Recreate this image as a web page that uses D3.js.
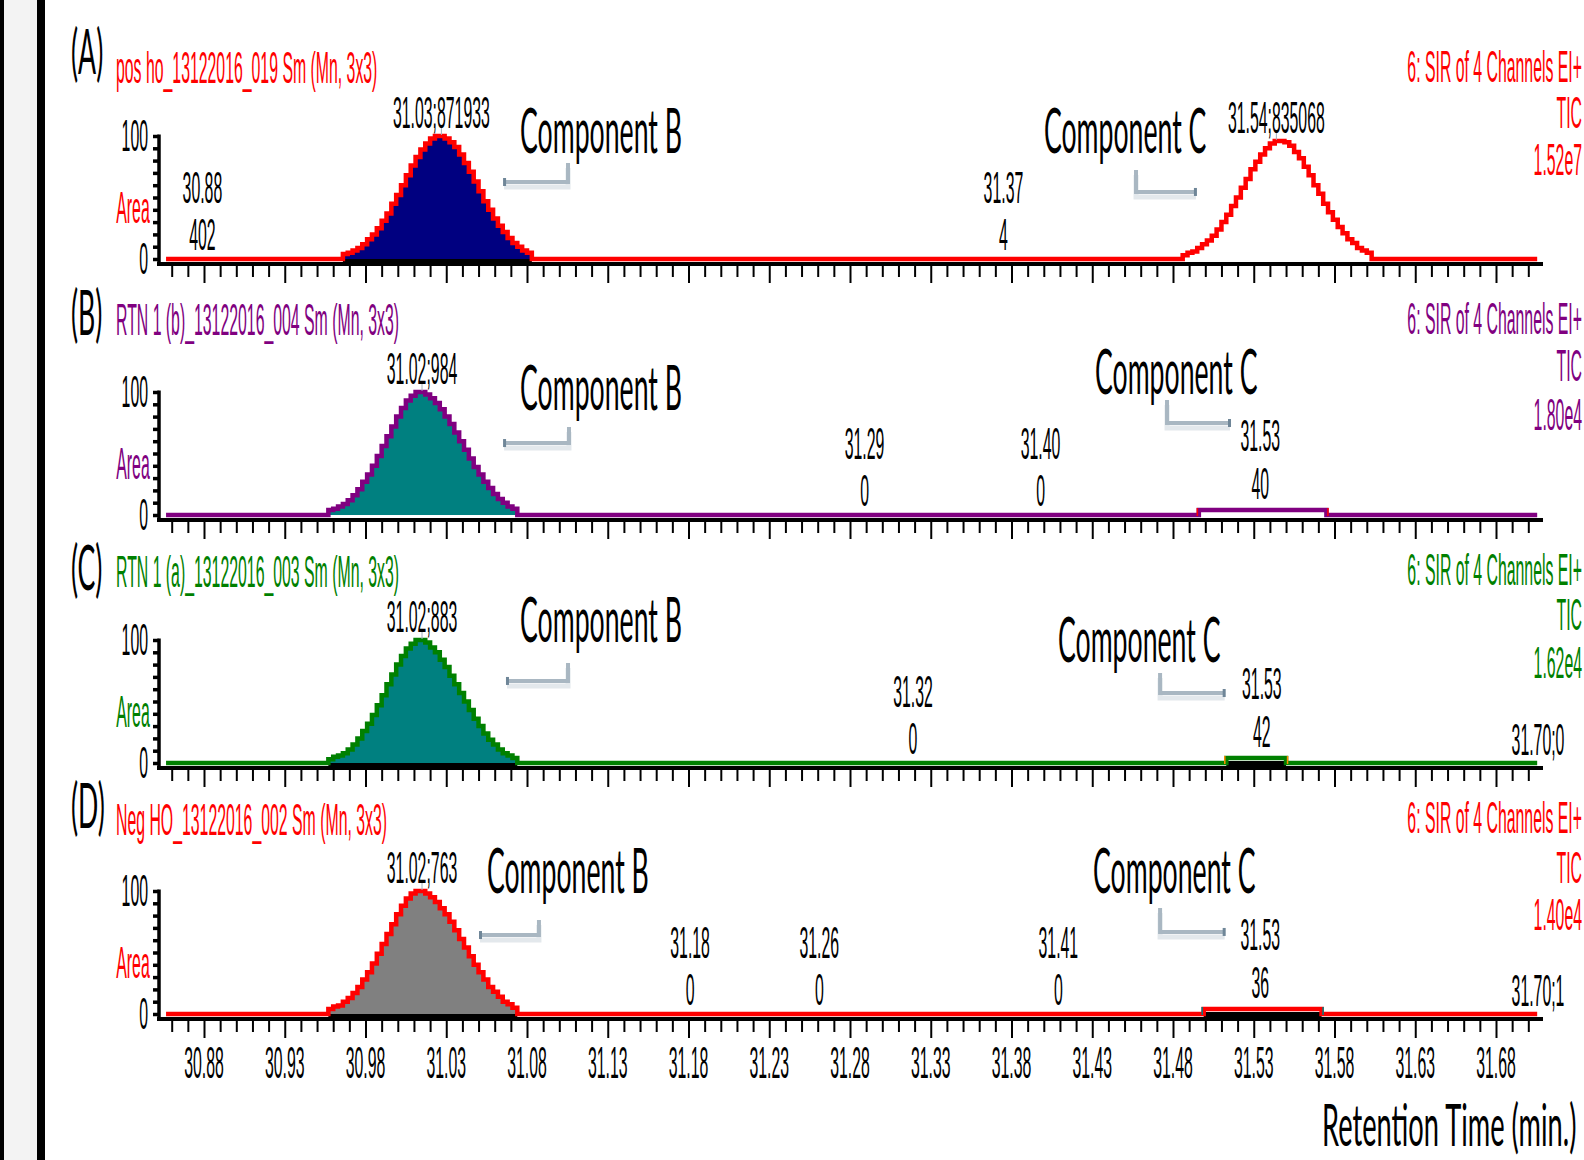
<!DOCTYPE html>
<meta charset="utf-8">
<style>
    body { margin: 0; background: #fff; }
    svg { display: block; }
    .small { font-family: "Liberation Sans", Arial, sans-serif; font-size: 44px; }
    .big { font-family: Lato, "Open Sans", sans-serif; font-size: 62px; }
    .axis-title { font-family: Lato, "Open Sans", sans-serif; font-size: 58px; }
</style>
<body>
<svg></svg>
</body>
<script src="https://d3js.org/d3.v7.min.js"></script>
<script>
    // ---- data ----
    var tickLabels = ["30.88", "30.93", "30.98", "31.03", "31.08", "31.13", "31.18", "31.23", "31.28",
        "31.33", "31.38", "31.43", "31.48", "31.53", "31.58", "31.63", "31.68"];
    var runStart = 30.8565, runEnd = 31.7055;

    var panelLetters = ["(A)", "(B)", "(C)", "(D)"];
    var sampleNames = ["pos ho_13122016_019 Sm (Mn, 3x3)", "RTN 1 (b)_13122016_004 Sm (Mn, 3x3)",
        "RTN 1 (a)_13122016_003 Sm (Mn, 3x3)", "Neg HO_13122016_002 Sm (Mn, 3x3)"];
    var channelText = "6: SIR of 4 Channels EI+";
    var maxIntensity = ["1.52e7", "1.80e4", "1.62e4", "1.40e4"];

    // panel A, component B peak (scan times, % intensity)
    var rtPeakB_A = [30.966, 30.969, 30.972, 30.975, 30.978, 30.981, 30.984, 30.987, 30.990, 30.993,
        30.996, 30.999, 31.002, 31.005, 31.008, 31.011, 31.014, 31.017, 31.020, 31.023,
        31.026, 31.029, 31.032, 31.035, 31.038, 31.041, 31.044, 31.047, 31.050, 31.053,
        31.056, 31.059, 31.062, 31.065, 31.068, 31.071, 31.074, 31.077, 31.080, 31.083];
    var intPeakB_A = [4, 5, 7, 9, 12, 16, 20, 25, 31, 37, 45, 52, 60, 68, 76, 83, 89, 94, 98, 100,
        100, 98, 95, 91, 85, 78, 71, 63, 55, 47, 40, 33, 27, 22, 17, 13, 10, 7, 5, 0];

    // panel A, component C peak
    var rtPeakC_A = [31.486, 31.489, 31.492, 31.495, 31.498, 31.501, 31.504, 31.507, 31.510, 31.513,
        31.516, 31.519, 31.522, 31.525, 31.528, 31.531, 31.534, 31.537, 31.540, 31.543,
        31.546, 31.549, 31.552, 31.555, 31.558, 31.561, 31.564, 31.567, 31.570, 31.573,
        31.576, 31.579, 31.582, 31.585, 31.588, 31.591, 31.594, 31.597, 31.600, 31.603];
    var intPeakC_A = [3, 5, 6, 9, 12, 15, 19, 24, 30, 36, 43, 50, 58, 65, 73, 79, 85, 90, 94, 96,
        96, 95, 92, 87, 82, 75, 68, 60, 53, 45, 38, 32, 26, 21, 16, 13, 9, 7, 5, 0];

    // panels B, C, D, component B peak
    var rtPeakB = [30.957, 30.960, 30.963, 30.966, 30.969, 30.972, 30.975, 30.978, 30.981, 30.984,
        30.987, 30.990, 30.993, 30.996, 30.999, 31.002, 31.005, 31.008, 31.011, 31.014,
        31.017, 31.020, 31.023, 31.026, 31.029, 31.032, 31.035, 31.038, 31.041, 31.044,
        31.047, 31.050, 31.053, 31.056, 31.059, 31.062, 31.065, 31.068, 31.071, 31.074];
    var intPeakB_B = [4, 5, 7, 9, 12, 16, 21, 27, 33, 40, 48, 56, 64, 72, 80, 87, 93, 97, 100, 100,
        98, 95, 91, 86, 80, 74, 67, 60, 53, 46, 39, 33, 27, 22, 17, 13, 10, 7, 5, 0];
    var intPeakB_C = [3, 5, 6, 8, 11, 15, 20, 26, 32, 39, 47, 55, 64, 72, 80, 87, 93, 97, 100, 100,
        98, 94, 90, 84, 78, 71, 64, 57, 50, 43, 36, 30, 24, 19, 15, 11, 8, 6, 4, 0];
    var intPeakB_D = [4, 6, 7, 10, 13, 17, 22, 28, 34, 41, 49, 57, 65, 73, 81, 88, 94, 98, 100, 100,
        98, 95, 91, 86, 81, 75, 68, 61, 54, 47, 40, 34, 28, 22, 18, 14, 10, 8, 5, 0];

    // small component C humps in B, C, D
    var rtBumpC_B = [31.496, 31.575];
    var rtBumpC_C = [31.513, 31.550];
    var rtBumpC_D = [31.499, 31.572];
    var intBumpC = [4, 0];

    // apex labels
    var apexRt = [[31.027, 31.544], [31.015], [31.015], [31.015]];
    var apexText = [["31.03;871933", "31.54;835068"], ["31.02;984"], ["31.02;883"], ["31.02;763"]];

    // peak-detection annotations (time, area)
    var annRt = [[30.879, 31.375], [31.289, 31.398, 31.534], [31.319, 31.535], [31.181, 31.261, 31.409, 31.534]];
    var annTime = [["30.88", "31.37"], ["31.29", "31.40", "31.53"], ["31.32", "31.53"], ["31.18", "31.26", "31.41", "31.53"]];
    var annArea = [["402", "4"], ["0", "0", "40"], ["0", "42"], ["0", "0", "0", "36"]];
    var endLabel = [null, null, "31.70;0", "31.70;1"];

    // ---- layout / style ----
    var traceColors = ["#ff0000", "#800080", "#008000", "#ff0000"];
    var fillColors = ["#000080", "#008080", "#008080", "#808080"];
    var panelTop = [136, 392, 640, 891];
    var panelH = 123;
    var letterY = [74, 335, 590, 828];
    var titleY = [83, 335, 587, 835];
    var rightY = [[82, 128, 175], [334, 381, 430], [585, 630, 678], [833, 883, 930]];
    // component label anchors and bracket arrows, in (rt, %) units
    var compB = [[31.0757, 86], [31.0757, 85], [31.0757, 98], [31.0552, 98]];
    var compC = [[31.4001, 86], [31.4317, 98], [31.4088, 82], [31.4305, 98]];
    var arrowB = [[[31.1054, 78], [31.1054, 62.6], [31.0658, 62.6]],
        [[31.106, 71.5], [31.106, 58.5], [31.0658, 58.5]],
        [[31.1054, 81.3], [31.1054, 66.7], [31.0676, 66.7]],
        [[31.0874, 76.4], [31.0874, 64.2], [31.0509, 64.2]]];
    var arrowC = [[[31.4571, 72.4], [31.4571, 54.5], [31.4942, 54.5]],
        [[31.4763, 93.5], [31.4763, 74.8], [31.5153, 74.8]],
        [[31.472, 73.2], [31.472, 56.9], [31.512, 56.9]],
        [[31.472, 86.2], [31.472, 66.7], [31.512, 66.7]]];

    var SX = 0.36, BSX = 0.43;

    var panelPeaks = [
        [{rt: rtPeakB_A, v: intPeakB_A, filled: true, integrated: true},
            {rt: rtPeakC_A, v: intPeakC_A, filled: false, integrated: false}],
        [{rt: rtPeakB, v: intPeakB_B, filled: true, integrated: false},
            {rt: rtBumpC_B, v: intBumpC, filled: false, integrated: false, edge: "#ff0000"}],
        [{rt: rtPeakB, v: intPeakB_C, filled: true, integrated: true},
            {rt: rtBumpC_C, v: intBumpC, filled: false, integrated: true, edge: "#ff8c00"}],
        [{rt: rtPeakB, v: intPeakB_D, filled: true, integrated: true},
            {rt: rtBumpC_D, v: intBumpC, filled: false, integrated: true, edge: "#008080"}]
    ];

    var svg = d3.select("svg").attr("width", 1584).attr("height", 1160);
    svg.append("rect").attr("width", 1584).attr("height", 1160).attr("fill", "#fff");

    // left frame
    svg.append("rect").attr("x", 0).attr("width", 4).attr("height", 1160).attr("fill", "#000");
    svg.append("rect").attr("x", 4).attr("width", 33).attr("height", 1160).attr("fill", "#f3f3f3");
    svg.append("rect").attr("x", 37).attr("width", 8).attr("height", 1160).attr("fill", "#000");

    var x = d3.scaleLinear().domain([30.88, 31.68]).range([204, 1496]);

    function sqText(g, cls, str, px, py, anchor, fill, sx) {
        return g.append("text").attr("class", cls)
            .attr("transform", "translate(" + px + "," + py + ") scale(" + sx + ",1)")
            .attr("text-anchor", anchor)
            .attr("fill", fill)
            .text(str);
    }

    function zip(a, b) {
        return a.map(function (d, i) { return [d, b[i]]; });
    }

    function drawArrow(g, pts, y, pointLeft) {
        var line = d3.line().x(function (d) { return x(d[0]); }).y(function (d) { return y(d[1]); });
        g.append("path").attr("d", line(pts)).attr("transform", "translate(0,5)")
            .attr("fill", "none").attr("stroke", "#e3e8ec").attr("stroke-width", 5);
        g.append("path").attr("d", line(pts))
            .attr("fill", "none").attr("stroke", "#a9b7c2").attr("stroke-width", 4);
        var end = pts[pts.length - 1];
        g.append("rect")
            .attr("x", x(end[0]) + (pointLeft ? -1 : -2))
            .attr("y", y(end[1]) - 4).attr("width", 3).attr("height", 8)
            .attr("fill", "#6f8698");
    }

    panelPeaks.forEach(function (peaks, i) {
        var g = svg.append("g").attr("class", "panel");
        var y = d3.scaleLinear().domain([0, 100]).range([panelTop[i] + panelH, panelTop[i]]);
        var y0 = y(0);
        var col = traceColors[i];

        // integration bars
        peaks.forEach(function (p) {
            if (p.integrated) {
                g.append("rect")
                    .attr("x", x(p.rt[0])).attr("y", y0 - 2)
                    .attr("width", x(p.rt[p.rt.length - 1]) - x(p.rt[0]))
                    .attr("height", 9).attr("fill", "#000");
            }
        });

        // filled peaks
        var area = d3.area().curve(d3.curveStepAfter)
            .x(function (d) { return x(d[0]); })
            .y0(y0)
            .y1(function (d) { return y(d[1]); });
        peaks.forEach(function (p) {
            if (p.filled) {
                g.append("path").datum(zip(p.rt, p.v))
                    .attr("d", area).attr("fill", fillColors[i]);
            }
        });

        // x axis line
        g.append("line").attr("x1", 157).attr("x2", 1543)
            .attr("y1", y0 + 5).attr("y2", y0 + 5)
            .attr("stroke", "#000").attr("stroke-width", 4);

        // trace
        var pts = [[runStart, 0]];
        peaks.forEach(function (p) { pts = pts.concat(zip(p.rt, p.v)); });
        pts.push([runEnd, 0]);
        var line = d3.line().curve(d3.curveStepAfter)
            .x(function (d) { return x(d[0]); })
            .y(function (d) { return y(d[1]); });
        g.append("path").datum(pts).attr("d", line)
            .attr("fill", "none").attr("stroke", col).attr("stroke-width", 4.5);

        peaks.forEach(function (p) {
            if (p.edge) {
                [p.rt[0], p.rt[p.rt.length - 1]].forEach(function (t, k) {
                    g.append("line")
                        .attr("x1", x(t) + (k ? 1.5 : -1.5)).attr("x2", x(t) + (k ? 1.5 : -1.5))
                        .attr("y1", y0 + 1).attr("y2", y(p.v[0]) - 2)
                        .attr("stroke", p.edge).attr("stroke-width", 1.5);
                });
            }
        });

        // x ticks
        var minor = d3.range(3086, 3171).map(function (k) { return k / 100; });
        var xAxis = g.append("g").attr("transform", "translate(0," + (y0 + 7) + ")")
            .call(d3.axisBottom(x).tickValues(minor).tickSize(11).tickFormat(""));
        xAxis.select(".domain").remove();
        xAxis.selectAll(".tick line")
            .attr("stroke-width", 2)
            .attr("y2", function (d) {
                return (Math.round(d * 100) - 3088) % 5 === 0 ? 17 : 11;
            });

        // y axis
        var yAxis = g.append("g").attr("transform", "translate(159,0)")
            .call(d3.axisLeft(y).tickValues(d3.range(0, 101, 10)).tickSize(6).tickFormat(""));
        yAxis.select(".domain").remove();
        yAxis.selectAll(".tick line").attr("stroke-width", 3.5);
        g.append("line").attr("x1", 159).attr("x2", 159)
            .attr("y1", y(100) - 1.5).attr("y2", y0 + 7)
            .attr("stroke", "#000").attr("stroke-width", 3.5);
        sqText(g, "small", "100", 148, y(100) + 15, "end", "#000", SX);
        sqText(g, "small", "0", 148, y0 + 15, "end", "#000", SX);
        sqText(g, "small", "Area", 133, y0 - 36, "middle", col, SX);

        // headers
        sqText(g, "big", panelLetters[i], 71, letterY[i], "start", "#000", BSX);
        sqText(g, "small", sampleNames[i], 116, titleY[i], "start", col, SX);
        sqText(g, "small", channelText, 1582, rightY[i][0], "end", col, SX);
        sqText(g, "small", "TIC", 1582, rightY[i][1], "end", col, SX);
        sqText(g, "small", maxIntensity[i], 1582, rightY[i][2], "end", col, SX);

        // apex labels
        apexRt[i].forEach(function (t, k) {
            var p = peaks[k];
            var top = y(d3.max(p.v));
            g.append("line").attr("x1", x(t)).attr("x2", x(t))
                .attr("y1", top - 8).attr("y2", top - 1)
                .attr("stroke", "#9fb0bd").attr("stroke-width", 1);
            sqText(g, "small", apexText[i][k], x(t), top - 8, "middle", "#000", SX);
        });

        // annotations
        var bump = peaks[1];
        annRt[i].forEach(function (t, k) {
            var raised = bump.rt.length === 2 && t >= bump.rt[0] && t <= bump.rt[1];
            sqText(g, "small", annTime[i][k], x(t), y0 - (raised ? 64 : 56), "middle", "#000", SX);
            sqText(g, "small", annArea[i][k], x(t), y0 - (raised ? 16 : 9), "middle", "#000", SX);
        });
        if (endLabel[i]) {
            sqText(g, "small", endLabel[i], x(31.706), y0 - 8, "middle", "#000", SX);
        }

        // component labels with bracket arrows
        drawArrow(g, arrowB[i], y, true);
        drawArrow(g, arrowC[i], y, false);
        sqText(g, "big", "Component B", x(compB[i][0]), y(compB[i][1]), "start", "#000", BSX);
        sqText(g, "big", "Component C", x(compC[i][0]), y(compC[i][1]), "start", "#000", BSX);

        if (i === 3) {
            tickLabels.forEach(function (lab) {
                sqText(g, "small", lab, x(+lab), 1078, "middle", "#000", SX);
            });
        }
    });

    sqText(svg, "axis-title", "Retention Time (min.)", 1322, 1146, "start", "#000", 0.47);
</script>
</html>
